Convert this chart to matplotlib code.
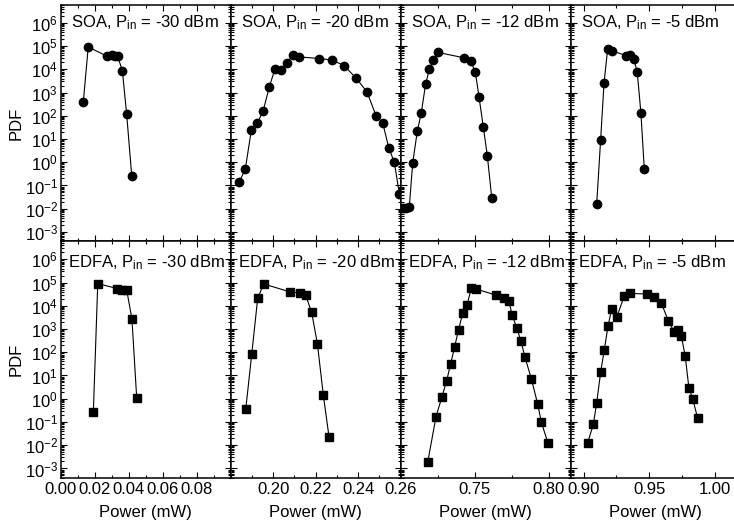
import matplotlib
matplotlib.use('Agg')
import matplotlib.pyplot as plt
from matplotlib.ticker import FixedLocator, MultipleLocator, LogLocator, LogFormatterMathtext, NullFormatter, FormatStrFormatter

plt.rcParams['font.family'] = ['Liberation Sans', 'DejaVu Sans']
plt.rcParams['mathtext.fontset'] = 'custom'
plt.rcParams['mathtext.rm'] = 'Liberation Sans'
plt.rcParams['mathtext.it'] = 'Liberation Sans:italic'
plt.rcParams['mathtext.default'] = 'regular'

# ---- 数据 ----
amps = ['SOA', 'EDFA']
p_in = [-30, -20, -12, -5]

soa_m30_x = [0.0133, 0.0162, 0.0274, 0.0304, 0.0320, 0.0335, 0.0363, 0.0388, 0.0418]
soa_m30_y = [390, 9.1e4, 3.6e4, 4.0e4, 3.8e4, 3.7e4, 8400, 117, 0.25]

soa_m20_x = [0.1840, 0.1869, 0.1897, 0.1925, 0.1953, 0.1982, 0.2008, 0.2038, 0.2066, 0.2092, 0.2123,
             0.2217, 0.2277, 0.2333, 0.2388, 0.2441, 0.2485, 0.2515, 0.2544, 0.2570, 0.2594]
soa_m20_y = [0.14, 0.52, 24, 48, 165, 1800, 1.0e4, 9300, 1.9e4, 4.3e4, 3.4e4,
             2.9e4, 2.5e4, 1.45e4, 4400, 1070, 95, 51, 4.1, 1.0, 0.042]

soa_m12_x = [0.7014, 0.7036, 0.7058, 0.7081, 0.7112, 0.7139, 0.7169, 0.7194, 0.7221, 0.7252,
             0.7430, 0.7474, 0.7505, 0.7530, 0.7559, 0.7586, 0.7616]
soa_m12_y = [0.0107, 0.011, 0.0115, 0.9, 21, 130, 2400, 1.0e4, 2.6e4, 5.3e4,
             3.1e4, 2.2e4, 7600, 630, 32, 1.9, 0.029]

soa_m5_x = [0.9099, 0.9129, 0.9155, 0.9183, 0.9213, 0.9323, 0.9353, 0.9382, 0.9409, 0.9437, 0.9463]
soa_m5_y = [0.0166, 9.4, 2600, 7.8e4, 6.3e4, 3.9e4, 4.3e4, 2.9e4, 7400, 130, 0.49]

edfa_m30_x = [0.0192, 0.0218, 0.0333, 0.0362, 0.0388, 0.0419, 0.0447]
edfa_m30_y = [0.27, 9.0e4, 5.5e4, 4.9e4, 4.9e4, 2700, 1.1]

edfa_m20_x = [0.1871, 0.1899, 0.1927, 0.1955, 0.2081, 0.2125, 0.2153, 0.2181, 0.2208, 0.2236, 0.2263]
edfa_m20_y = [0.37, 83, 2.1e4, 8.7e4, 3.9e4, 3.6e4, 2.8e4, 5200, 230, 1.4, 0.022]

edfa_m12_x = [0.7183, 0.7239, 0.7279, 0.7311, 0.7338, 0.7365, 0.7392, 0.7419, 0.7449, 0.7478, 0.7507,
              0.7643, 0.7701, 0.7731, 0.7755, 0.7785, 0.7814, 0.7841, 0.7884, 0.7927, 0.7951, 0.7995]
edfa_m12_y = [0.0019, 0.17, 1.2, 6, 32, 175, 950, 4800, 1.07e4, 6.0e4, 5.3e4,
              2.9e4, 2.1e4, 1.6e4, 3900, 1100, 295, 60, 7.1, 0.58, 0.10, 0.013]

edfa_m5_x = [0.9030, 0.9073, 0.9099, 0.9129, 0.9157, 0.9185, 0.9213, 0.9252, 0.9310, 0.9353, 0.9481,
             0.9535, 0.9593, 0.9646, 0.9690, 0.9720, 0.9746, 0.9776, 0.9804, 0.9833, 0.9871]
edfa_m5_y = [0.013, 0.078, 0.68, 14, 125, 1300, 7100, 3200, 2.7e4, 3.4e4, 3.2e4,
             2.5e4, 1.3e4, 2300, 780, 890, 510, 66, 2.9, 0.98, 0.145]

series = [
    [(soa_m30_x, soa_m30_y), (soa_m20_x, soa_m20_y), (soa_m12_x, soa_m12_y), (soa_m5_x, soa_m5_y)],
    [(edfa_m30_x, edfa_m30_y), (edfa_m20_x, edfa_m20_y), (edfa_m12_x, edfa_m12_y), (edfa_m5_x, edfa_m5_y)],
]

# 每列的横轴范围和刻度
xlims = [(0.0, 0.10), (0.18, 0.26), (0.70, 0.815), (0.89, 1.02)]
x_ticks = [[0.00, 0.02, 0.04, 0.06, 0.08], [0.20, 0.22, 0.24, 0.26], [0.75, 0.80], [0.90, 0.95, 1.00]]
x_minor = [0.01, 0.01, 0.025, 0.025]
ylim = (4e-4, 6e6)

# ---- 绘图 ----
fig = plt.figure(figsize=(7.34, 5.28), dpi=100)

left0 = 60.7 / 734
col_w = 170 / 734
row_h = 236.5 / 528
bottoms = [(528 - 241.2) / 528, (528 - 477.7) / 528]
markers = ['o', 's']
title_x = [0.06, 0.04]
title_y = [0.905, 0.888]

for r in range(2):
    for c in range(4):
        ax = fig.add_axes([left0 + c * col_w, bottoms[r], col_w, row_h])
        x, y = series[r][c]
        ax.plot(x, y, '-', color='black', lw=0.8, marker=markers[r],
                ms=6 if r == 0 else 5.3, mfc='black', mec='black')

        ax.set_yscale('log')
        ax.set_ylim(*ylim)
        ax.set_xlim(*xlims[c])
        ax.yaxis.set_major_locator(LogLocator(base=10, numticks=20))
        ax.yaxis.set_minor_locator(LogLocator(base=10, subs=range(2, 10), numticks=20))
        ax.yaxis.set_minor_formatter(NullFormatter())
        ax.xaxis.set_major_locator(FixedLocator(x_ticks[c]))
        ax.xaxis.set_minor_locator(MultipleLocator(x_minor[c]))
        ax.xaxis.set_major_formatter(FormatStrFormatter('%.2f'))

        ax.tick_params(which='both', direction='in', top=True, right=True, width=0.8)
        ax.tick_params(which='major', length=4, labelsize=12, pad=2)
        ax.tick_params(which='minor', length=2)
        for sp in ax.spines.values():
            sp.set_linewidth(1.1)

        if c == 0:
            ax.yaxis.set_major_formatter(LogFormatterMathtext())
            ax.set_ylabel('PDF', fontsize=12, labelpad=1)
        else:
            ax.tick_params(labelleft=False)
        if r == 0:
            ax.tick_params(labelbottom=False)
        else:
            ax.tick_params(axis='x', pad=3)
            ax.set_xlabel('Power (mW)', fontsize=12, labelpad=6)

        ax.text(title_x[r], title_y[r], f'{amps[r]}, P$_{{in}}$ = {p_in[c]} dBm',
                transform=ax.transAxes, fontsize=12, ha='left', va='baseline')

plt.savefig('out.png', dpi=100)
plt.close()
